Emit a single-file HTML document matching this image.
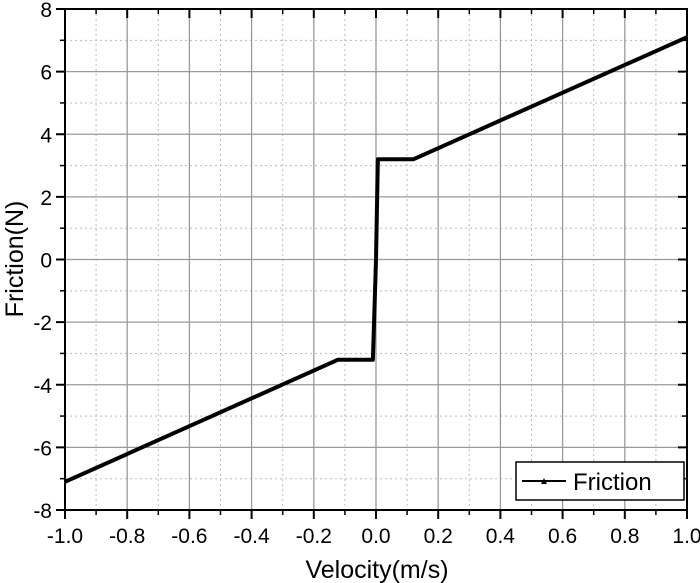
<!DOCTYPE html>
<html><head><meta charset="utf-8"><style>body{margin:0;background:#fff}svg{display:block;font-family:"Liberation Sans",Arial,sans-serif}</style></head>
<body>
<svg id="c" width="700" height="583"></svg>
<script>
const xs=[-1.0,-0.122,-0.01,0.0,0.006,0.12,1.0];
const ys=[-7.1,-3.2,-3.2,0.0,3.2,3.2,7.1];
const xTicks=[-1.0,-0.8,-0.6,-0.4,-0.2,0.0,0.2,0.4,0.6,0.8,1.0];
const xTickLabels=["-1.0","-0.8","-0.6","-0.4","-0.2","0.0","0.2","0.4","0.6","0.8","1.0"];
const yTicks=[-8,-6,-4,-2,0,2,4,6,8];
const yTickLabels=["-8","-6","-4","-2","0","2","4","6","8"];
const L=65,R=687,T=9,B=510;
const sx=v=>L+(v+1)/2*(R-L), sy=v=>B-(v+8)/16*(B-T);
const s=document.getElementById('c');const NS='http://www.w3.org/2000/svg';
function mk(t,a,p){const e=document.createElementNS(NS,t);for(const k in a)e.setAttribute(k,a[k]);(p||s).appendChild(e);return e;}
const g=mk('g',{});


for(let i=0;i<10;i++){const v=-0.9+i*0.2;mk('line',{x1:sx(v),x2:sx(v),y1:T,y2:B,stroke:'#bbb','stroke-dasharray':'2,3'},g);}
for(let i=0;i<8;i++){const v=-7+i*2;mk('line',{x1:L,x2:R,y1:sy(v),y2:sy(v),stroke:'#bbb','stroke-dasharray':'2,3'},g);}
xTicks.forEach(v=>mk('line',{x1:sx(v),x2:sx(v),y1:T,y2:B,stroke:'#999','stroke-width':1.3},g));
yTicks.forEach(v=>mk('line',{x1:L,x2:R,y1:sy(v),y2:sy(v),stroke:'#999','stroke-width':1.3},g));
mk('rect',{x:L,y:T,width:R-L,height:B-T,fill:'none',stroke:'#000','stroke-width':2});
xTicks.forEach((v,i)=>{mk('line',{x1:sx(v),x2:sx(v),y1:B,y2:B+9,stroke:'#000','stroke-width':2});mk('line',{x1:sx(v),x2:sx(v),y1:T,y2:T+9,stroke:'#000','stroke-width':2});
const t=mk('text',{x:sx(v),y:B+33,'text-anchor':'middle','font-size':21});t.textContent=xTickLabels[i];

});
for(let i=0;i<10;i++){const v=-0.9+i*0.2;mk('line',{x1:sx(v),x2:sx(v),y1:B,y2:B+5,stroke:'#000','stroke-width':1.5});mk('line',{x1:sx(v),x2:sx(v),y1:T,y2:T+5,stroke:'#000','stroke-width':1.5});}
yTicks.forEach((v,i)=>{mk('line',{x1:L-9,x2:L,y1:sy(v),y2:sy(v),stroke:'#000','stroke-width':2});mk('line',{x1:R-9,x2:R,y1:sy(v),y2:sy(v),stroke:'#000','stroke-width':2});
const t=mk('text',{x:L-13,y:sy(v)+8,'text-anchor':'end','font-size':21});t.textContent=yTickLabels[i];

});
for(let i=0;i<8;i++){const v=-7+i*2;mk('line',{x1:L-5,x2:L,y1:sy(v),y2:sy(v),stroke:'#000','stroke-width':1.5});mk('line',{x1:R-5,x2:R,y1:sy(v),y2:sy(v),stroke:'#000','stroke-width':1.5});}
const line=mk('polyline',{points:xs.map((x,i)=>sx(x)+','+sy(ys[i])).join(' '),fill:'none',stroke:'#000','stroke-width':4,'stroke-linejoin':'round'});


const xl=mk('text',{x:377,y:578,'text-anchor':'middle','font-size':25});xl.textContent='Velocity(m/s)';


const yl=mk('text',{x:0,y:0,transform:'translate(23,259) rotate(-90)','text-anchor':'middle','font-size':25});yl.textContent='Friction(N)';


const lg=mk('g',{});


mk('rect',{x:516,y:462,width:168,height:38,fill:'#fff',stroke:'#000','stroke-width':1.5},lg);
mk('line',{x1:522,x2:566,y1:481,y2:481,stroke:'#000','stroke-width':2},lg);
mk('path',{d:'M541,484 L544,478 L547,484 Z',fill:'#000'},lg);
const lt=mk('text',{x:573,y:490,'font-size':24},lg);lt.textContent='Friction';
</script>
</body></html>
